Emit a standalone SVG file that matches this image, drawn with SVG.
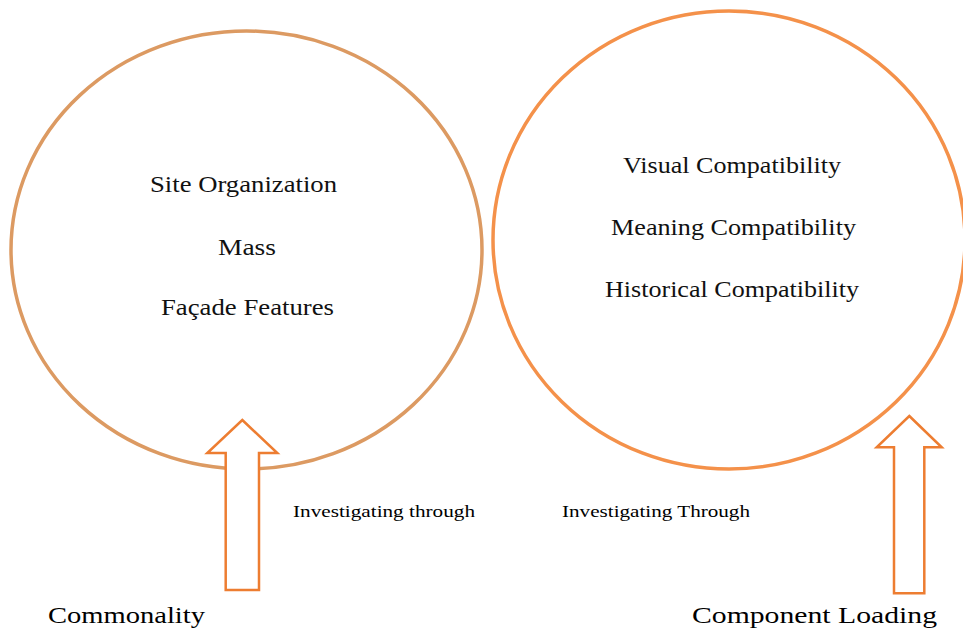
<svg xmlns="http://www.w3.org/2000/svg" width="963" height="632" viewBox="0 0 963 632">
<style>
.inner{font-family:"Liberation Serif","Times New Roman",serif;font-size:23px;fill:#111;text-anchor:start}
.label{font-family:"Liberation Serif","Times New Roman",serif;fill:#000}
.arrow{fill:#fff;stroke:#ed7d31;stroke-width:2.5;stroke-linejoin:miter}
</style>
<rect width="963" height="632" fill="#fff"/>
<g id="node-left">
<ellipse cx="246.5" cy="250" rx="235.5" ry="219" fill="#fff" stroke="#dc9a62" stroke-width="3.5"/>
<text class="inner" x="150" y="192" textLength="187" lengthAdjust="spacingAndGlyphs">Site Organization</text>
<text class="inner" x="218" y="255" textLength="58" lengthAdjust="spacingAndGlyphs">Mass</text>
<text class="inner" x="161" y="315" textLength="173" lengthAdjust="spacingAndGlyphs">Façade Features</text>
</g>
<g id="node-right">
<ellipse cx="729" cy="240" rx="236" ry="229" fill="#fff" stroke="#f4914a" stroke-width="3.5"/>
<text class="inner" x="623" y="173" textLength="218" lengthAdjust="spacingAndGlyphs">Visual Compatibility</text>
<text class="inner" x="611" y="235" textLength="245" lengthAdjust="spacingAndGlyphs">Meaning Compatibility</text>
<text class="inner" x="605" y="297" textLength="254" lengthAdjust="spacingAndGlyphs">Historical Compatibility</text>
</g>
<g id="connectors">
<polygon id="arrow-left" class="arrow" points="242.3,420 277.3,453 259,453 259,590 225.7,590 225.7,453 207.3,453"/>
<polygon id="arrow-right" class="arrow" points="909.3,416 941.7,447.3 924.3,447.3 924.3,593.3 894,593.3 894,447.3 876.7,447.3"/>
</g>
<g id="labels">
<text class="label" x="293" y="517" font-size="17.5" textLength="182" lengthAdjust="spacingAndGlyphs">Investigating through</text>
<text class="label" x="562" y="517" font-size="17.5" textLength="188" lengthAdjust="spacingAndGlyphs">Investigating Through</text>
<text class="label" x="48" y="623" font-size="23.5" textLength="157" lengthAdjust="spacingAndGlyphs">Commonality</text>
<text class="label" x="692" y="623" font-size="23.5" textLength="245" lengthAdjust="spacingAndGlyphs">Component Loading</text>
</g>
</svg>
